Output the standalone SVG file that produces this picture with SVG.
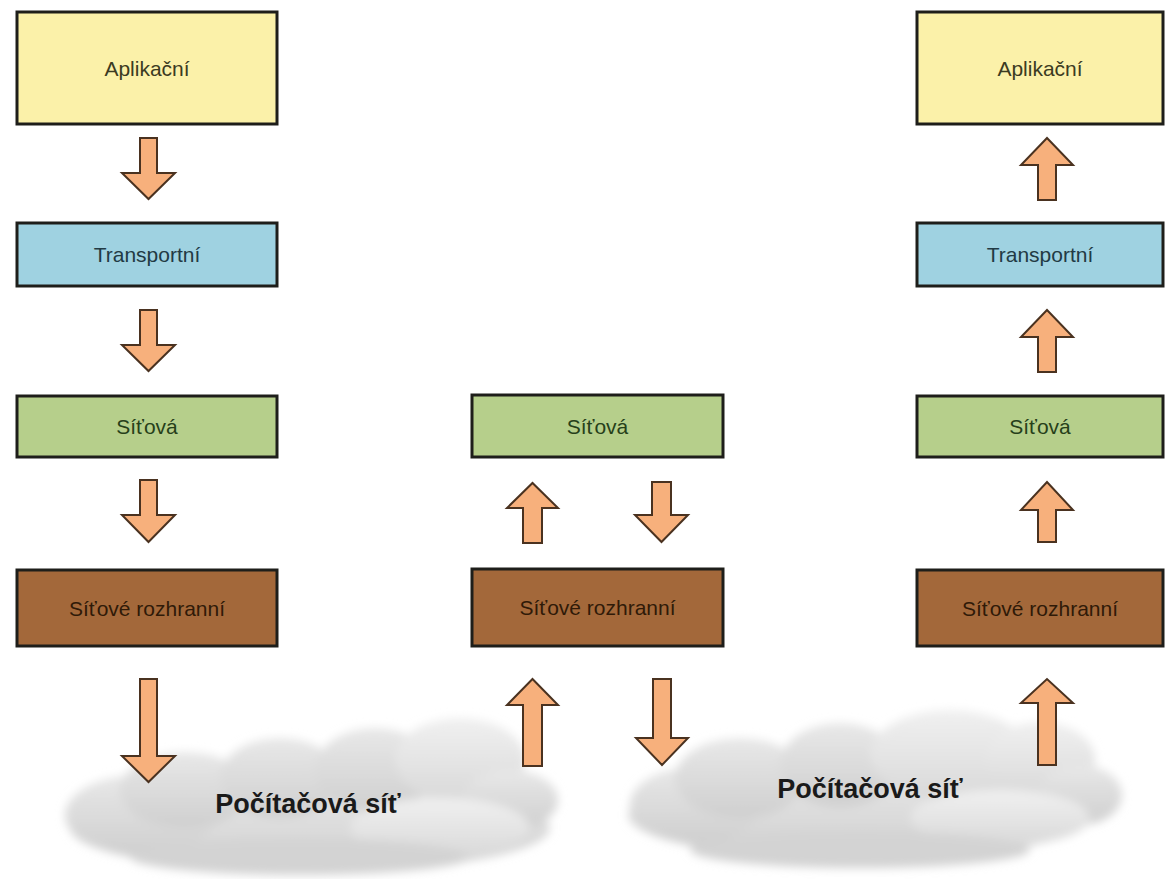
<svg xmlns="http://www.w3.org/2000/svg" width="1165" height="879" viewBox="0 0 1165 879">
<style>
.box{stroke:#1e1e1a;stroke-width:3}
.app{fill:#fbf1a9}
.tr{fill:#9fd2e1}
.net{fill:#b6cf8b}
.nif{fill:#a3683a}
.lbl{font-family:"Liberation Sans",Arial,sans-serif;font-size:21px;text-anchor:middle;dominant-baseline:central}
.arr{fill:#f7b07c;stroke:#4a3220;stroke-width:2;stroke-linejoin:miter}
.cl{font-family:"Liberation Sans",Arial,sans-serif;font-size:27px;font-weight:bold;fill:#1a1a1a;text-anchor:middle}
</style>
<defs>
<filter id="blur" x="-10%" y="-20%" width="120%" height="140%"><feGaussianBlur stdDeviation="5"/></filter>
<linearGradient id="cg" x1="0" y1="0" x2="0" y2="1">
<stop offset="0" stop-color="#e8e8e8"/>
<stop offset="1" stop-color="#cfcfcf"/>
</linearGradient>
<linearGradient id="cg2" x1="0" y1="0" x2="0" y2="1">
<stop offset="0" stop-color="#f0f0f0"/>
<stop offset="1" stop-color="#d9d9d9"/>
</linearGradient>
</defs>
<rect width="1165" height="879" fill="#ffffff"/>

<g id="cloud-left" filter="url(#blur)">
<ellipse cx="310" cy="828" rx="240" ry="44" fill="url(#cg)"/>
<ellipse cx="140" cy="815" rx="75" ry="40" fill="url(#cg)"/>
<ellipse cx="185" cy="790" rx="65" ry="38" fill="url(#cg)"/>
<ellipse cx="280" cy="778" rx="60" ry="40" fill="url(#cg)"/>
<ellipse cx="375" cy="770" rx="60" ry="42" fill="url(#cg)"/>
<ellipse cx="460" cy="760" rx="65" ry="42" fill="url(#cg2)"/>
<ellipse cx="510" cy="800" rx="48" ry="30" fill="url(#cg)"/>
<ellipse cx="440" cy="828" rx="90" ry="30" fill="url(#cg2)"/>
<ellipse cx="300" cy="857" rx="170" ry="18" fill="#d3d3d3"/>
</g>
<g id="cloud-right" filter="url(#blur)">
<ellipse cx="860" cy="815" rx="232" ry="45" fill="url(#cg)"/>
<ellipse cx="695" cy="805" rx="65" ry="38" fill="url(#cg)"/>
<ellipse cx="740" cy="778" rx="65" ry="40" fill="url(#cg)"/>
<ellipse cx="840" cy="765" rx="60" ry="42" fill="url(#cg)"/>
<ellipse cx="950" cy="755" rx="80" ry="45" fill="url(#cg2)"/>
<ellipse cx="1040" cy="760" rx="55" ry="38" fill="url(#cg2)"/>
<ellipse cx="1080" cy="795" rx="42" ry="30" fill="url(#cg)"/>
<ellipse cx="1000" cy="818" rx="90" ry="28" fill="url(#cg2)"/>
<ellipse cx="860" cy="850" rx="170" ry="18" fill="#d3d3d3"/>
</g>

<g id="left-app"><rect class="box app" x="17" y="12" width="260" height="112"/><text class="lbl" x="147" y="68" fill="#3b3b22">Aplikační</text></g>
<g id="left-tr"><rect class="box tr" x="17" y="223" width="260" height="63"/><text class="lbl" x="147" y="254.5" fill="#223a44">Transportní</text></g>
<g id="left-net"><rect class="box net" x="17" y="396" width="260" height="61"/><text class="lbl" x="147" y="426.5" fill="#26401a">Síťová</text></g>
<g id="left-nif"><rect class="box nif" x="17" y="570" width="260" height="76"/><text class="lbl" x="147" y="608" fill="#2f1a08">Síťové rozhranní</text></g>

<g id="mid-net"><rect class="box net" x="472" y="395" width="251" height="62"/><text class="lbl" x="597.5" y="426" fill="#26401a">Síťová</text></g>
<g id="mid-nif"><rect class="box nif" x="472" y="569" width="251" height="77"/><text class="lbl" x="597.5" y="607.5" fill="#2f1a08">Síťové rozhranní</text></g>

<g id="right-app"><rect class="box app" x="917" y="12" width="246" height="112"/><text class="lbl" x="1040" y="68" fill="#3b3b22">Aplikační</text></g>
<g id="right-tr"><rect class="box tr" x="917" y="223" width="246" height="63"/><text class="lbl" x="1040" y="254.5" fill="#223a44">Transportní</text></g>
<g id="right-net"><rect class="box net" x="917" y="396" width="246" height="61"/><text class="lbl" x="1040" y="426.5" fill="#26401a">Síťová</text></g>
<g id="right-nif"><rect class="box nif" x="917" y="570" width="246" height="76"/><text class="lbl" x="1040" y="608" fill="#2f1a08">Síťové rozhranní</text></g>

<g id="connectors">
<path class="arr" d="M140,138 H157 V173 H175 L148.5,199 L122,173 H140 Z"/>
<path class="arr" d="M140,310 H157 V345 H175 L148.5,371 L122,345 H140 Z"/>
<path class="arr" d="M140,480 H157 V515 H175 L148.5,542 L122,515 H140 Z"/>
<path class="arr" d="M140,679 H157 V756 H175 L148.5,782 L122,756 H140 Z"/>

<path class="arr" d="M523,543 H542 V508 H558 L532.5,483 L507,508 H523 Z"/>
<path class="arr" d="M652,482 H671 V515 H688 L661.5,542 L635,515 H652 Z"/>
<path class="arr" d="M523,766 H542 V705 H558 L532.5,679 L507,705 H523 Z"/>
<path class="arr" d="M653,679 H671 V738 H688 L662,765 L636,738 H653 Z"/>

<path class="arr" d="M1038,200 H1056 V165 H1073 L1047,138 L1021,165 H1038 Z"/>
<path class="arr" d="M1038,372 H1056 V337 H1073 L1047,310 L1021,337 H1038 Z"/>
<path class="arr" d="M1038,542 H1056 V510 H1073 L1047,482 L1021,510 H1038 Z"/>
<path class="arr" d="M1038,765 H1056 V703 H1073 L1047,679 L1021,703 H1038 Z"/>
</g>

<text class="cl" x="308" y="813">Počítačová síť</text>
<text class="cl" x="870" y="798">Počítačová síť</text>
</svg>
